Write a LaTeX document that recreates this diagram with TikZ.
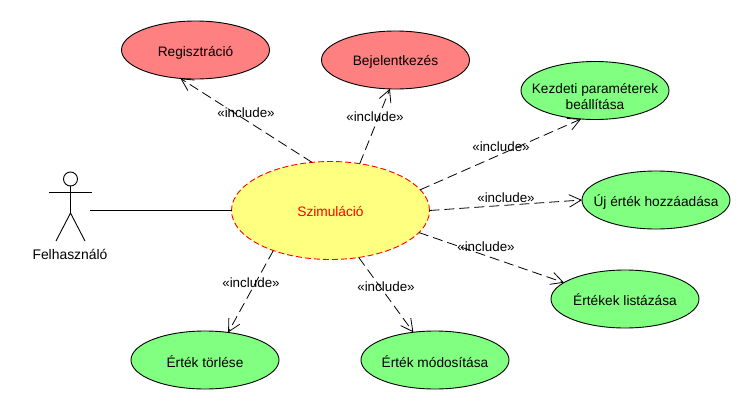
\documentclass[tikz,border=0pt]{standalone}
\usepackage{fontspec}
\setmainfont{Liberation Sans}
\usetikzlibrary{shapes.geometric,arrows.meta}
\definecolor{ucred}{HTML}{FF8080}
\definecolor{ucgreen}{HTML}{80FF80}
\definecolor{ucyellow}{HTML}{FFFF80}
\tikzset{
  uc/.style={ellipse,draw=black,line width=0.9pt,minimum width=148pt,minimum height=58pt,inner xsep=-30pt,inner ysep=-14pt,outer sep=0pt,align=center,font=\fontsize{13.7pt}{16.5pt}\selectfont},
  ucr/.style={uc,fill=ucred},
  ucg/.style={uc,fill=ucgreen},
  inc/.style={draw=black,line width=0.8pt,dash pattern=on 10pt off 5pt,-{Straight Barb[length=12pt,width=12.5pt,line width=0.8pt]}},
  inclabel/.style={font=\fontsize{13.4pt}{15pt}\selectfont,inner sep=0pt},
  stick/.style={draw=black,line width=0.9pt},
  base/.style={text depth=3pt,text height=#1}
}
\begin{document}
\begin{tikzpicture}[x=1pt,y=-1pt]
\useasboundingbox (0,0) rectangle (750,410);
\fill[white] (0,0) rectangle (750,410);
\node[ucr,base=15.4pt] (reg) at (195.5,50) {Regisztráció};
\node[ucr,base=13.2pt] (bej) at (395.5,60) {Bejelentkezés};
\node[ucg] (kez) at (595,90.5) {\rule{0pt}{22pt}Kezdeti paraméterek\\beállítása};
\node[ucg,base=15pt] (uj) at (656,200) {Új érték hozzáadása};
\node[ucg,base=16pt] (lis) at (625,299) {Értékek listázása};
\node[ucg,base=18pt] (tor) at (205,360) {Érték törlése};
\node[ucg,base=18pt] (mod) at (435,360) {Érték módosítása};
\node[uc,base=15pt,fill=ucyellow,draw=red,dash pattern=on 6pt off 3pt,text=red,minimum width=198pt,minimum height=98pt] (sim) at (330.5,210.5) {Szimuláció};
% actor
\node[circle,stick,minimum size=14pt,inner sep=0pt] (head) at (70.5,179) {};
\coordinate (neck) at (70.5,186);
\coordinate (hip) at (70.5,213);
\coordinate (arml) at (49,192);
\coordinate (armr) at (92,192);
\coordinate (legl) at (56,241);
\coordinate (legr) at (85,241);
\coordinate (actorend) at (90,210.5);
\draw[stick] (head.south) -- (hip);
\draw[stick] (arml) -- (armr);
\draw[stick] (legl) -- (hip) -- (legr);
\node[font=\fontsize{13.9pt}{15pt}\selectfont,inner sep=0pt] (actorlabel) at (70,254) {Felhasználó};
\draw[black,line width=0.9pt] (actorend) -- (sim.180);
% includes
\draw[inc] (sim.111.8) -- (reg.242.7);
\draw[inc] (sim.58.4) -- (bej.259.6);
\draw[inc] (sim.13.6) -- (kez.244.6);
\draw[inc] (sim.0) -- (uj.180);
\draw[inc] (sim.346.4) -- (lis.165.2);
\draw[inc] (sim.215.2) -- (tor.50.2);
\draw[inc] (sim.301) -- (mod.128.7);
\node[inclabel] (l1) at (246,113) {«include»};
\node[inclabel] (l2) at (375,117) {«include»};
\node[inclabel] (l3) at (501,147) {«include»};
\node[inclabel] (l4) at (506,198) {«include»};
\node[inclabel] (l5) at (486,247) {«include»};
\node[inclabel] (l6) at (251,283) {«include»};
\node[inclabel] (l7) at (386,287) {«include»};
\end{tikzpicture}
\end{document}
